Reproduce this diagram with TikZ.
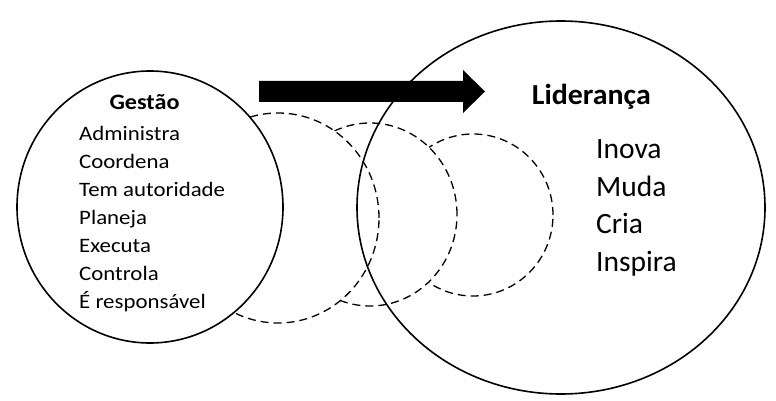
\documentclass[tikz,border=0pt]{standalone}
\usepackage{fontspec}
\setmainfont{Carlito}
\usetikzlibrary{shapes.geometric}
\newcommand{\hs}[2]{\scalebox{#1}[1]{#2}}
\tikzset{
  oval/.style={ellipse, draw=black, inner sep=0pt, line width=1.6pt},
  dcirc/.style={ellipse, draw=black, fill=white, inner sep=0pt, line width=1.3pt, dash pattern=on 8pt off 5pt},
  lbl/.style={anchor=base west, inner sep=0pt, text=black},
}
\begin{document}
\begin{tikzpicture}[x=1pt,y=-1pt]
\useasboundingbox (0,0) rectangle (776,401);
% dashed circles (back to front)
\node[dcirc, minimum width=160pt, minimum height=162pt] (d3) at (473,215) {};
\node[dcirc, minimum width=174pt, minimum height=183pt] (d2) at (370,214.5) {};
\node[dcirc, minimum width=202pt, minimum height=210pt] (d1) at (278,218) {};
% left solid circle
\node[oval, fill=white, minimum width=266pt, minimum height=272pt] (gest) at (150,207) {};
% big ellipse
\node[oval, minimum width=408pt, minimum height=373pt] (lid) at (561,207.5) {};
% arrow
\fill[black] (259,81) -- (463,81) -- (463,70) -- (485,91.5) -- (463,113) -- (463,102) -- (259,102) -- cycle;
% texts
\node[lbl] (tg) at (109.3,110) {\fontsize{22}{24}\selectfont\bfseries\hs{1.1}{Gestão}};
\node[lbl] (g1) at (79,140) {\fontsize{20.5}{22}\selectfont\hs{1.115}{Administra}};
\node[lbl] (g2) at (79,168) {\fontsize{20.5}{22}\selectfont\hs{1.115}{Coordena}};
\node[lbl] (g3) at (79,196) {\fontsize{20.5}{22}\selectfont\hs{1.115}{Tem autoridade}};
\node[lbl] (g4) at (79,224) {\fontsize{20.5}{22}\selectfont\hs{1.115}{Planeja}};
\node[lbl] (g5) at (79,252) {\fontsize{20.5}{22}\selectfont\hs{1.115}{Executa}};
\node[lbl] (g6) at (79,280) {\fontsize{20.5}{22}\selectfont\hs{1.115}{Controla}};
\node[lbl] (g7) at (79,308) {\fontsize{20.5}{22}\selectfont\hs{1.115}{É responsável}};
\node[lbl] (tl) at (531.7,105) {\fontsize{29}{32}\selectfont\bfseries\hs{1.03}{Liderança}};
\node[lbl] (l1) at (596,158.5) {\fontsize{29.5}{34}\selectfont Inova};
\node[lbl] (l2) at (596,196.2) {\fontsize{29.5}{34}\selectfont Muda};
\node[lbl] (l3) at (596,233.9) {\fontsize{29.5}{34}\selectfont Cria};
\node[lbl] (l4) at (596,271.6) {\fontsize{29.5}{34}\selectfont Inspira};
\end{tikzpicture}
\end{document}
